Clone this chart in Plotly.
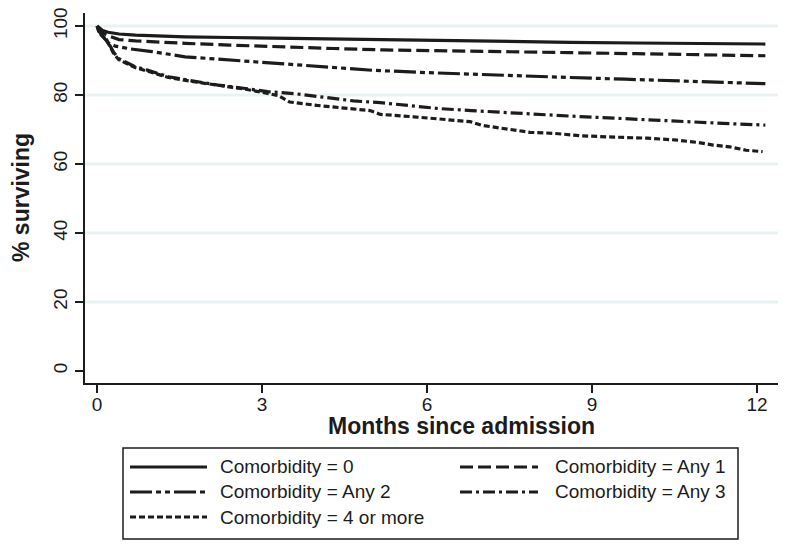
import plotly.graph_objects as go

## data: months since admission vs % surviving ##
groups = ["Comorbidity = 0", "Comorbidity = Any 1", "Comorbidity = Any 2",
          "Comorbidity = Any 3", "Comorbidity = 4 or more"]

months_0 = [0, 0.05, 0.1, 0.2, 0.4, 0.7, 1.0, 1.6, 2.4, 3.2, 4.3, 5.2, 6.2, 7.4, 8.6, 9.8, 11.0, 12.15]
surv_0 = [100, 99.2, 98.7, 98.2, 97.7, 97.4, 97.2, 96.9, 96.7, 96.5, 96.2, 96.0, 95.8, 95.6, 95.3, 95.1, 94.9, 94.8]

months_1 = [0, 0.05, 0.1, 0.2, 0.4, 0.7, 1.0, 1.6, 2.4, 3.2, 4.3, 5.2, 6.2, 7.4, 8.6, 9.8, 11.0, 12.15]
surv_1 = [100, 98.8, 98.0, 97.2, 96.1, 95.7, 95.4, 95.0, 94.5, 94.0, 93.5, 93.1, 92.8, 92.5, 92.3, 92.0, 91.7, 91.4]

months_2 = [0, 0.05, 0.1, 0.2, 0.33, 0.6, 1.0, 1.6, 2.5, 3.2, 4.0, 5.0, 6.0, 6.8, 7.6, 8.6, 9.6, 10.6, 11.4, 12.15]
surv_2 = [100, 98.3, 97.0, 95.2, 94.2, 93.4, 92.6, 91.1, 90.1, 89.4, 88.3, 87.2, 86.5, 86.0, 85.6, 85.1, 84.6, 84.1, 83.7, 83.3]

months_3 = [0, 0.03, 0.08, 0.15, 0.22, 0.3, 0.39, 0.55, 0.69, 0.9, 1.3, 1.7, 2.2, 2.7, 3.1, 3.6, 4.36, 4.66,
            5.15, 5.6, 6.2, 6.8, 7.4, 8.0, 8.6, 9.4, 10.0, 10.8, 11.5, 12.15]
surv_3 = [100, 98.6, 97.5, 96.6, 94.8, 92.4, 90.6, 89.2, 88.2, 87.3, 85.3, 84.2, 82.9, 81.9, 81.0, 80.4, 79.0, 78.3,
          77.8, 77.0, 76.1, 75.5, 74.9, 74.4, 73.9, 73.3, 72.8, 72.2, 71.7, 71.3]

months_4 = [0, 0.03, 0.08, 0.15, 0.22, 0.3, 0.39, 0.55, 0.69, 0.9, 1.3, 1.7, 2.2, 2.7, 3.1, 3.3, 3.5, 4.0, 4.96,
            5.15, 5.75, 6.18, 6.78, 7.0, 7.4, 7.87, 8.3, 8.8, 9.4, 10.0, 10.5, 10.9, 11.2, 11.5, 11.8, 12.1]
surv_4 = [100, 98.4, 97.3, 96.4, 94.5, 92.1, 90.3, 89.0, 88.0, 87.0, 85.1, 84.0, 82.8, 81.7, 80.5, 79.8, 78.0, 77.0, 75.5,
          74.4, 73.7, 73.2, 72.3, 71.2, 70.3, 69.2, 68.9, 68.2, 67.8, 67.5, 67.0, 66.3, 65.5, 65.0, 64.0, 63.6]

x_ticks = [0, 3, 6, 9, 12]
y_ticks = [0, 20, 40, 60, 80, 100]
grid_vals = [20, 40, 60, 80, 100]

months = [months_0, months_1, months_2, months_3, months_4]
survs = [surv_0, surv_1, surv_2, surv_3, surv_4]

## styles ##
ink = "#1c1c1c"
grid_col = "#e8f1f4"
dashes = ["solid", "13px,5px", "22px,4px,5px,4px,5px,4px", "12px,4px,3px,4px", "6px,3px"]
font = "Liberation Sans, Arial, sans-serif"

# the page body keeps its 8px margin, so the figure is drawn 8px in from the window
OFF = 8
W, H = 789 - 2 * OFF, 552 - 2 * OFF
L, R, T, B = 85 - OFF, W - (778 - OFF), 13 - OFF, H - (383 - OFF)

fig = go.Figure()
for i, g in enumerate(groups):
    fig.add_trace(go.Scatter(x=months[i], y=survs[i], mode="lines", name=g,
                             line=dict(color=ink, width=3.2, dash=dashes[i])))

for v in grid_vals:
    fig.add_hline(y=v, line=dict(color=grid_col, width=3), layer="below")

fig.update_layout(width=W, height=H, margin=dict(l=L, r=R, t=T, b=B, autoexpand=False),
                  plot_bgcolor="#ffffff", paper_bgcolor="#ffffff",
                  font=dict(family=font, color=ink), showlegend=False)

fig.update_xaxes(range=[-0.22, 12.38], tickvals=x_ticks, showgrid=False, zeroline=False,
                 showline=True, linecolor=ink, linewidth=2, ticks="outside", ticklen=8,
                 tickwidth=1.5, tickcolor=ink, tickfont=dict(size=19), ticklabelstandoff=-5,
                 ticklabeloverflow="allow")
fig.update_yaxes(range=[-3.5, 103.8], tickvals=y_ticks, showgrid=False, zeroline=False,
                 showline=True, linecolor=ink, linewidth=2, ticks="outside", ticklen=8,
                 tickwidth=1.5, tickcolor=ink, tickfont=dict(size=19), tickangle=-90,
                 ticklabeloverflow="allow")


## pixel (in the window) -> paper ##
def px_x(p):
    return (p - OFF - L) / (W - L - R)


def px_y(p):
    return (H - B - (p - OFF)) / (H - T - B)


# axis titles
fig.add_annotation(xref="paper", yref="paper", x=px_x(461), y=px_y(426), showarrow=False,
                   xanchor="center", yanchor="middle",
                   text="<b>Months since admission</b>", font=dict(size=23))
fig.add_annotation(xref="paper", yref="paper", x=px_x(21), y=px_y(198), showarrow=False,
                   xanchor="center", yanchor="middle",
                   text="<b>% surviving</b>", font=dict(size=23), textangle=-90)

## hand-made legend box below the plot ##
fig.add_shape(type="rect", xref="paper", yref="paper", x0=px_x(123), x1=px_x(738),
              y0=px_y(539), y1=px_y(448), line=dict(color=ink, width=1.5), fillcolor="#ffffff")

slots = [(130, 207, 218, 467), (460, 538, 553, 467), (130, 207, 218, 492),
         (460, 538, 553, 492), (130, 207, 218, 517)]
for i, g in enumerate(groups):
    a, b, t, yy = slots[i]
    fig.add_shape(type="line", xref="paper", yref="paper", x0=px_x(a), x1=px_x(b),
                  y0=px_y(yy), y1=px_y(yy), line=dict(color=ink, width=3.2, dash=dashes[i]))
    fig.add_annotation(xref="paper", yref="paper", x=px_x(t), y=px_y(yy), text=g,
                       showarrow=False, xanchor="left", yanchor="middle", font=dict(size=19))

fig.write_html("out.html")
